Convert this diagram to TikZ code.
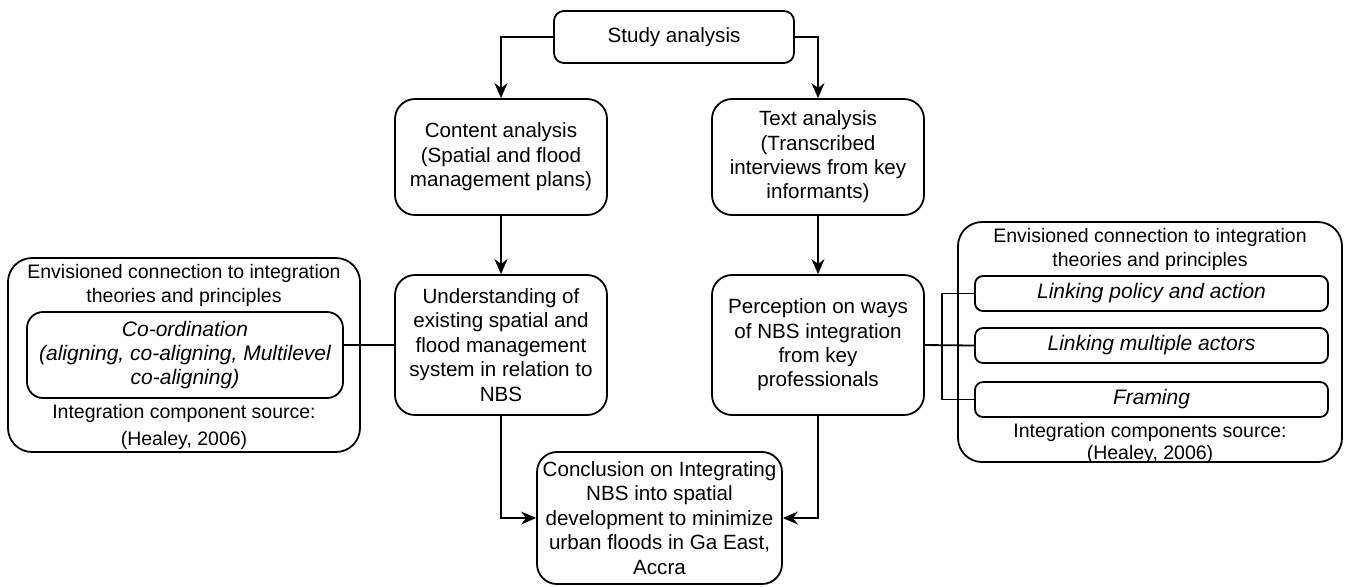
\documentclass[tikz,border=0pt]{standalone}
\usepackage{fontspec}
\setmainfont{Liberation Sans}
\usetikzlibrary{arrows.meta}
\begin{document}
\begin{tikzpicture}[x=0.5pt,y=-0.5pt,line width=0.9pt,>={Stealth[length=7.5pt,width=6.5pt]},
    txt/.style={font=\fontsize{10.3}{12.2}\selectfont,align=center,inner sep=0pt},
    box/.style={txt,draw,rounded corners=10pt,minimum width=106pt,minimum height=58pt},
    outer/.style={draw,rounded corners=12pt,inner sep=0pt},
    theory/.style={txt,draw,rounded corners=4pt,minimum width=176.5pt,minimum height=17.5pt,font=\fontsize{10.5}{12.2}\selectfont\itshape},
    note/.style={txt,font=\fontsize{9.75}{12}\selectfont}]
  \useasboundingbox (0,0) rectangle (1349,586);
  % main flow
  \node[box,rounded corners=5pt,minimum width=120pt,minimum height=26pt] (study) at (674,37) {Study analysis};
  \node[box] (content) at (501,157) {Content analysis\\(Spatial and flood\\management plans)};
  \node[box] (text) at (818,157) {Text analysis\\(Transcribed\\interviews from key\\informants)};
  \node[box,minimum height=70pt] (underst) at (501,345) {Understanding of\\existing spatial and\\flood management\\system in relation to\\NBS};
  \node[box,minimum height=70pt] (percep) at (818,345) {Perception on ways\\of NBS integration\\from key\\professionals};
  \node[box,minimum width=122.5pt,minimum height=66pt] (concl) at (659.5,518) {Conclusion on Integrating\\NBS into spatial\\development to minimize\\urban floods in Ga East,\\Accra};
  \draw[->](study.west)-|(content.north);
  \draw[->](study.east)-|(text.north);
  \draw[->](content)--(underst);
  \draw[->](text)--(percep);
  \draw[->](underst.south)|-(concl.west);
  \draw[->](percep.south)|-(concl.east);
  % left theory box
  \node[outer,minimum width=176pt,minimum height=97pt] (lout) at (184,355) {};
  \node[note] (ltop) at (184,285) {Envisioned connection to integration\\theories and principles};
  \node[theory,rounded corners=8pt,minimum width=158pt,minimum height=43pt] (coord) at (185,355) {Co-ordination\\(aligning, co-aligning, Multilevel\\co-aligning)};
  \node[note] (lsrc) at (184,413) {Integration component source:};
  \node[note] (lref) at (184,440) {(Healey, 2006)};
  \draw(underst.west)--(underst.west-|coord.east);
  % right theory box
  \node[outer,minimum width=192pt,minimum height=120pt] (rout) at (1150,342) {};
  \node[note] (rtop) at (1150,249.5) {Envisioned connection to integration\\theories and principles};
  \node[theory] (r1) at (1151.5,293.5) {Linking policy and action};
  \node[theory] (r2) at (1151.5,345.5) {Linking multiple actors};
  \node[theory] (r3) at (1151.5,399.5) {Framing};
  \node[note] (rsrc) at (1150,432) {Integration components source:};
  \node[note] (rref) at (1150,454) {(Healey, 2006)};
  \coordinate (brk) at (942,293.5);
  \draw(percep.east)--(r2.west);
  \draw(r1.west)--(brk)|-(r3.west);
\end{tikzpicture}
\end{document}
